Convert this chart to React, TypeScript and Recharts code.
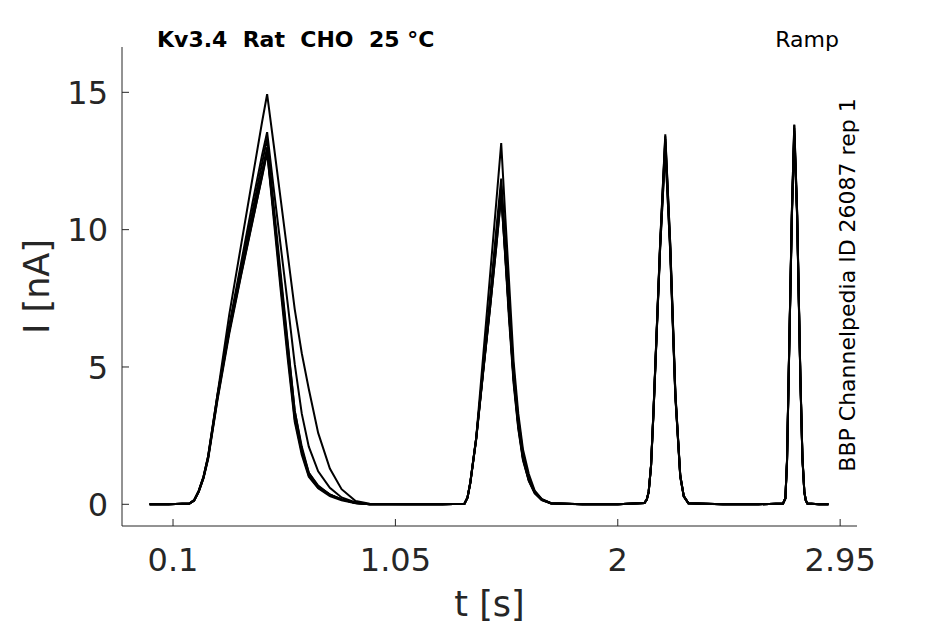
import { Line, LineChart, XAxis, YAxis } from 'recharts';

// Ramp protocol, BBP Channelpedia ID 26087, six sweeps overlaid.
const timeS = [
  0, 0.08,
  0.17, 0.19, 0.21, 0.23, 0.25, 0.29, 0.34, 0.39, 0.44, 0.48, 0.502, 0.53, 0.56, 0.59, 0.62, 0.65, 0.68, 0.72, 0.77, 0.82, 0.88, 0.94,
  1.1, 1.25,
  1.345, 1.358, 1.37, 1.395, 1.425, 1.455, 1.48, 1.502, 1.52, 1.535, 1.555, 1.575, 1.595, 1.62, 1.645, 1.675, 1.715,
  1.85, 2.0,
  2.114, 2.124, 2.132, 2.142, 2.153, 2.181, 2.203, 2.224, 2.246, 2.267, 2.282, 2.302,
  2.45, 2.6,
  2.706, 2.716, 2.723, 2.73, 2.744, 2.754, 2.766, 2.78, 2.789, 2.797, 2.803, 2.81,
  2.86, 2.9
];

const sweep1 = [
  0, 0,
  0.03, 0.15, 0.5, 1.0, 1.75, 4.0, 6.9, 9.4, 11.9, 13.9, 14.93, 13.1, 11.1, 9.1, 7.1, 5.5, 4.2, 2.6, 1.3, 0.55, 0.12, 0.02,
  0, 0,
  0.02, 0.25, 0.8, 2.4, 5.4, 8.4, 10.9, 13.15, 10.4, 8.2, 5.2, 3.3, 2.0, 1.1, 0.5, 0.2, 0.04,
  0, 0,
  0.05, 0.18, 0.46, 1.4, 3.48, 9.52, 13.47, 9.52, 4.08, 1.06, 0.3, 0.04,
  0, 0,
  0.03, 0.22, 1.6, 4.68, 10.72, 13.83, 10.72, 4.68, 1.7, 0.46, 0.15, 0.03,
  0, 0
];
const sweep2 = [
  0, 0,
  0.03, 0.14, 0.48, 0.98, 1.72, 3.95, 6.5, 8.75, 11.0, 12.7, 13.55, 11.5, 9.4, 7.3, 5.1, 3.3, 2.1, 1.2, 0.6, 0.25, 0.07, 0,
  0, 0,
  0.02, 0.25, 0.8, 2.4, 5.0, 7.6, 9.9, 11.86, 9.5, 7.4, 4.9, 3.1, 1.85, 0.95, 0.48, 0.18, 0.04,
  0, 0,
  0.05, 0.17, 0.45, 1.38, 3.4, 9.4, 13.3, 9.4, 4.0, 1.05, 0.3, 0.04,
  0, 0,
  0.03, 0.21, 1.55, 4.6, 10.6, 13.7, 10.6, 4.6, 1.65, 0.45, 0.15, 0.03,
  0, 0
];
const sweep3 = [
  0, 0,
  0.03, 0.14, 0.47, 0.97, 1.7, 3.9, 6.4, 8.6, 10.7, 12.4, 13.32, 10.9, 8.4, 5.9, 3.4, 2.1, 1.15, 0.65, 0.36, 0.18, 0.05, 0,
  0, 0,
  0.02, 0.24, 0.78, 2.38, 4.9, 7.4, 9.7, 11.6, 9.2, 7.1, 4.6, 2.9, 1.7, 0.9, 0.45, 0.17, 0.04,
  0, 0,
  0.05, 0.18, 0.45, 1.4, 3.45, 9.45, 13.2, 9.35, 3.95, 1.0, 0.28, 0.04,
  0, 0,
  0.03, 0.22, 1.58, 4.65, 10.65, 13.6, 10.65, 4.65, 1.68, 0.46, 0.15, 0.03,
  0, 0
];
const sweep4 = [
  0, 0,
  0.03, 0.14, 0.47, 0.96, 1.68, 3.85, 6.3, 8.45, 10.5, 12.1, 13.0, 10.6, 8.0, 5.5, 3.1, 1.9, 1.05, 0.6, 0.35, 0.18, 0.05, 0,
  0, 0,
  0.02, 0.24, 0.78, 2.36, 4.85, 7.3, 9.5, 11.45, 9.0, 7.0, 4.5, 2.8, 1.65, 0.85, 0.42, 0.16, 0.03,
  0, 0,
  0.05, 0.17, 0.44, 1.36, 3.4, 9.3, 13.0, 9.2, 3.9, 1.0, 0.28, 0.03,
  0, 0,
  0.03, 0.2, 1.5, 4.55, 10.5, 13.5, 10.5, 4.6, 1.62, 0.44, 0.14, 0.03,
  0, 0
];
const sweep5 = [
  0, 0,
  0.03, 0.13, 0.45, 0.94, 1.65, 3.8, 6.2, 8.3, 10.3, 11.95, 12.85, 10.4, 7.8, 5.3, 3.0, 1.8, 1.0, 0.58, 0.3, 0.15, 0.04, 0,
  0, 0,
  0.02, 0.23, 0.76, 2.35, 4.8, 7.2, 9.3, 11.3, 8.9, 6.8, 4.4, 2.75, 1.6, 0.85, 0.4, 0.15, 0.03,
  0, 0,
  0.05, 0.18, 0.46, 1.42, 3.5, 9.5, 13.4, 9.5, 4.05, 1.05, 0.3, 0.04,
  0, 0,
  0.03, 0.22, 1.6, 4.7, 10.75, 13.8, 10.7, 4.7, 1.7, 0.47, 0.15, 0.03,
  0, 0
];
const sweep6 = [
  0, 0,
  0.03, 0.15, 0.5, 1.0, 1.76, 4.0, 6.3, 8.35, 10.35, 11.9, 12.8, 10.6, 8.2, 5.8, 3.4, 2.0, 1.15, 0.68, 0.35, 0.18, 0.05, 0,
  0, 0,
  0.02, 0.25, 0.8, 2.4, 4.85, 7.2, 9.3, 11.2, 9.0, 7.0, 4.6, 2.9, 1.7, 0.9, 0.45, 0.17, 0.04,
  0, 0,
  0.05, 0.17, 0.45, 1.38, 3.42, 9.35, 12.9, 9.25, 3.95, 1.02, 0.29, 0.04,
  0, 0,
  0.03, 0.21, 1.55, 4.6, 10.6, 13.4, 10.55, 4.6, 1.65, 0.45, 0.15, 0.03,
  0, 0
];

const sweeps = [sweep1, sweep2, sweep3, sweep4, sweep5, sweep6];
const xTicks = [0.1, 1.05, 2, 2.95];
const yTicks = [0, 5, 10, 15];

const rows = timeS.map((t, i) => {
  const row: Record<string, number> = { t };
  sweeps.forEach((s, k) => {
    row[`s${k + 1}`] = s[i];
  });
  return row;
});

const FONT = '"DejaVu Sans", sans-serif';
const AXIS = '#262626';

function XTick({ x, y, payload }: { x?: number; y?: number; payload?: { value: number } }) {
  return (
    <text x={x} y={(y ?? 0) + 23} textAnchor='middle' fontFamily={FONT} fontSize={32} fill={AXIS}>
      {String(payload?.value)}
    </text>
  );
}

function YTick({ x, y, payload }: { x?: number; y?: number; payload?: { value: number } }) {
  return (
    <text x={x} y={(y ?? 0) + 11.6} textAnchor='end' fontFamily={FONT} fontSize={32} fill={AXIS}>
      {String(payload?.value)}
    </text>
  );
}

export default function App() {
  return (
    <div style={{ position: 'absolute', left: 0, top: 0, width: 945, height: 624, background: '#fff' }}>
      <LineChart width={945} height={624} data={rows} margin={{ top: 47, right: 88, bottom: 58, left: 62 }}>
        <XAxis
          dataKey='t'
          type='number'
          domain={[-0.118, 3.022]}
          allowDataOverflow
          ticks={xTicks}
          height={40}
          tickSize={-7}
          tickMargin={29}
          stroke={AXIS}
          tick={<XTick />}
        />
        <YAxis
          type='number'
          domain={[-0.79, 16.65]}
          allowDataOverflow
          ticks={yTicks}
          width={60}
          tickSize={-7}
          tickMargin={21}
          stroke={AXIS}
          tick={<YTick />}
        />
        {sweeps.map((_, k) => (
          <Line
            key={k}
            type='linear'
            dataKey={`s${k + 1}`}
            stroke='#000'
            strokeWidth={2}
            dot={false}
            activeDot={false}
            isAnimationActive={false}
          />
        ))}
      </LineChart>
      <svg
        width={945}
        height={624}
        style={{ position: 'absolute', left: 0, top: 0, pointerEvents: 'none' }}
        fontFamily={FONT}
      >
        <text x={157} y={46.7} fontSize={22} fontWeight='bold' fill='#000' style={{ whiteSpace: 'pre' }}>
          {'Kv3.4  Rat  CHO  25 °C'}
        </text>
        <text x={839} y={46.7} fontSize={22} textAnchor='end' fill='#000'>
          Ramp
        </text>
        <text transform='translate(855 285) rotate(-90)' fontSize={22} textAnchor='middle' fill='#000'>
          BBP Channelpedia ID 26087 rep 1
        </text>
        <text x={489.5} y={616} fontSize={35} textAnchor='middle' fill={AXIS}>
          t [s]
        </text>
        <text transform='translate(48.5 286.5) rotate(-90)' fontSize={35} textAnchor='middle' fill={AXIS}>
          I [nA]
        </text>
      </svg>
    </div>
  );
}
